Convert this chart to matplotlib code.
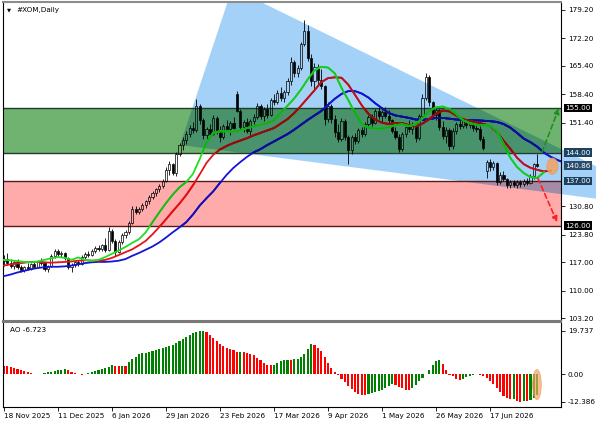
import numpy as np
import matplotlib
matplotlib.use("Agg")
import matplotlib.pyplot as plt
import matplotlib.colors as mcolors
from matplotlib.patches import Rectangle, PathPatch, Ellipse
from matplotlib.path import Path
from matplotlib.transforms import Bbox

# ---- daily candles, one row of ten bars per line ----
opens = [117.2, 117.8, 116.9, 116.2, 117.0, 115.8, 115.1, 115.9, 115.4, 116.5,
         115.9, 117.2, 116.8, 115.3, 116.0, 118.6, 119.8, 119.1, 119.4, 118.0,
         115.8, 116.4, 117.0, 116.6, 118.4, 119.1, 118.7, 119.8, 120.6, 120.2,
         121.3, 120.0, 124.8, 122.3, 119.6, 122.1, 123.7, 124.4, 126.8, 130.2,
         129.4, 130.2, 131.2, 132.0, 133.2, 134.0, 135.0, 135.8, 137.0, 139.8,
         141.2, 139.0, 143.8, 145.9, 147.2, 148.7, 150.2, 149.5, 155.6, 152.0,
         148.3, 149.8, 148.7, 152.6, 149.2, 147.9, 150.6, 149.9, 151.3, 158.4,
         154.4, 150.4, 151.5, 149.4, 151.8, 152.9, 155.5, 153.0, 154.9, 153.4,
         157.0, 156.4, 158.8, 157.6, 158.9, 161.8, 166.4, 163.6, 164.9, 170.8,
         174.0, 167.4, 161.6, 165.2, 162.0, 160.4, 152.3, 155.6, 152.4, 149.0,
         147.4, 151.8, 147.8, 144.6, 147.9, 146.8, 149.6, 148.6, 151.0, 152.8,
         151.4, 154.2, 153.0, 154.0, 153.1, 152.0, 149.4, 148.0, 145.0, 148.6,
         150.4, 149.8, 151.0, 147.6, 153.0, 157.6, 162.6, 156.4, 153.4, 154.6,
         150.4, 148.2, 149.6, 145.6, 149.4, 151.0, 150.6, 151.8, 150.8, 151.5,
         150.0, 149.8, 147.4, 139.4, 141.8, 140.4, 141.5, 136.8, 138.6, 137.6,
         136.0, 136.9, 136.1, 136.8, 136.2, 137.0, 136.6, 138.3, 141.2]
highs = [118.9, 119.3, 117.8, 117.5, 117.8, 116.4, 116.2, 116.9, 116.8, 117.3,
         117.6, 118.0, 117.1, 116.3, 119.0, 120.4, 120.2, 119.9, 119.6, 118.3,
         116.9, 117.4, 117.6, 118.8, 119.6, 119.8, 120.2, 121.0, 121.2, 121.6,
         123.0, 125.8, 125.3, 122.8, 122.6, 124.2, 125.0, 127.3, 131.0, 130.8,
         130.6, 131.6, 132.4, 133.6, 134.5, 135.4, 136.2, 137.6, 140.4, 141.9,
         141.6, 144.2, 146.4, 147.8, 149.3, 150.8, 151.6, 157.2, 156.0, 152.6,
         150.4, 151.2, 153.4, 153.0, 150.5, 151.2, 152.2, 151.8, 152.8, 159.2,
         154.8, 152.0, 152.6, 152.4, 153.6, 156.2, 156.0, 155.3, 156.0, 157.6,
         158.4, 159.4, 160.2, 159.4, 162.5, 167.6, 166.9, 165.6, 171.4, 176.8,
         175.4, 168.4, 166.2, 165.9, 164.6, 160.8, 156.6, 156.0, 153.2, 151.0,
         152.6, 152.4, 148.4, 148.4, 148.8, 150.2, 150.4, 151.6, 153.4, 153.6,
         154.8, 155.3, 154.6, 155.2, 154.6, 152.4, 150.4, 148.6, 149.0, 151.0,
         152.1, 151.6, 151.4, 153.6, 158.4, 163.6, 163.2, 156.8, 155.4, 154.9,
         151.8, 150.3, 150.0, 150.2, 151.6, 152.8, 152.2, 152.0, 152.2, 151.8,
         151.4, 150.6, 148.2, 142.2, 142.4, 142.0, 141.8, 139.2, 139.4, 137.9,
         137.4, 137.4, 137.2, 137.3, 137.5, 137.8, 138.8, 141.6, 143.6]
lows = [116.0, 116.4, 115.6, 115.4, 115.3, 114.6, 114.5, 115.0, 115.0, 115.6,
        115.7, 116.4, 114.9, 114.6, 115.8, 118.1, 118.6, 118.3, 117.6, 115.3,
        114.5, 115.8, 116.0, 116.4, 117.9, 118.2, 118.5, 119.3, 119.8, 119.7,
        119.5, 119.8, 121.8, 118.6, 119.2, 121.6, 122.9, 124.0, 126.4, 128.8,
        128.9, 129.6, 130.5, 131.4, 132.6, 133.3, 134.4, 135.2, 136.8, 138.6,
        138.4, 138.2, 143.1, 144.8, 146.2, 148.0, 148.9, 149.2, 151.2, 147.4,
        147.3, 148.2, 148.3, 148.6, 146.6, 147.5, 149.4, 148.4, 149.8, 154.0,
        149.6, 149.2, 148.8, 147.8, 151.0, 152.4, 152.3, 151.8, 152.6, 153.0,
        155.8, 156.0, 156.8, 156.6, 158.2, 160.8, 162.8, 162.6, 164.4, 170.2,
        166.6, 160.4, 159.6, 161.0, 159.8, 150.8, 151.6, 151.4, 148.0, 146.6,
        147.0, 147.2, 141.2, 143.8, 146.2, 146.4, 147.8, 148.2, 150.2, 150.6,
        151.0, 152.4, 151.6, 152.6, 151.3, 148.8, 147.4, 144.2, 144.4, 148.0,
        149.2, 148.6, 146.6, 147.2, 152.6, 157.0, 155.6, 152.6, 152.0, 149.6,
        147.4, 146.4, 144.6, 145.0, 148.6, 149.8, 150.2, 150.1, 150.2, 149.4,
        149.0, 146.8, 144.6, 137.8, 139.6, 139.8, 136.0, 136.2, 137.0, 135.4,
        135.2, 135.6, 135.4, 135.6, 135.8, 136.0, 136.4, 137.6, 140.4]
closes = [117.8, 116.9, 116.2, 117.0, 115.8, 115.1, 115.9, 115.4, 116.5, 115.9,
          117.2, 116.8, 115.3, 116.0, 118.6, 119.8, 119.1, 119.4, 118.0, 115.8,
          116.4, 117.0, 116.6, 118.4, 119.1, 118.7, 119.8, 120.6, 120.2, 121.3,
          120.0, 124.8, 122.3, 119.6, 122.1, 123.7, 124.4, 126.8, 130.2, 129.4,
          130.2, 131.2, 132.0, 133.2, 134.0, 135.0, 135.8, 137.0, 139.8, 141.2,
          139.0, 143.8, 145.9, 147.2, 148.7, 150.2, 149.5, 155.6, 152.0, 148.3,
          149.8, 148.7, 152.6, 149.2, 147.9, 150.6, 149.9, 151.3, 150.2, 154.4,
          150.4, 151.5, 149.4, 151.8, 152.9, 155.5, 153.0, 154.9, 153.4, 157.0,
          156.4, 158.8, 157.6, 158.9, 161.8, 166.4, 163.6, 164.9, 170.8, 174.0,
          167.4, 161.6, 165.2, 162.0, 160.4, 152.3, 155.6, 152.4, 149.0, 147.4,
          151.8, 147.8, 144.6, 147.9, 146.8, 149.6, 148.6, 151.0, 152.8, 151.4,
          154.2, 153.0, 154.0, 153.1, 152.0, 149.4, 148.0, 145.0, 148.6, 150.4,
          149.8, 151.0, 147.6, 153.0, 157.6, 162.6, 156.4, 153.4, 154.6, 150.4,
          148.2, 149.6, 145.6, 149.4, 151.0, 150.6, 151.8, 150.8, 151.5, 150.0,
          149.8, 147.4, 145.2, 141.8, 140.4, 141.5, 136.8, 138.6, 137.6, 136.0,
          136.9, 136.1, 136.8, 136.2, 137.0, 136.6, 138.3, 141.2, 140.86]

# Alligator-style lines, value every second bar as drawn on the chart (already shifted)
lips = [117.6, 117.5, 117.3, 117.1, 117.0, 117.2, 117.6, 118.0, 118.3, 118.1,
        117.6, 118.2, 117.6, 117.4, 117.6, 118.3, 119.1, 119.9, 120.8, 121.8,
        122.7, 124.4, 126.9, 129.3, 131.6, 133.7, 135.5, 136.8, 138.8, 142.5,
        146.6, 148.9, 149.3, 149.3, 149.2, 149.5, 150.1, 150.5, 150.9, 151.3,
        152.0, 153.9, 155.6, 157.4, 159.6, 162.1, 164.3, 165.2, 165.0, 163.6,
        160.0, 157.0, 153.8, 151.0, 150.2, 150.0, 150.0, 150.3, 150.8, 151.0,
        150.6, 151.0, 152.5, 154.3, 155.2, 155.4, 154.8, 153.6, 152.0, 151.3,
        150.9, 150.8, 150.7, 149.4, 146.2, 142.8, 140.5, 139.0, 138.0, 137.8,
        139.2]
teeth = [116.2, 116.5, 116.7, 116.9, 117.1, 117.1, 117.0, 116.9, 117.0, 117.1,
         117.2, 117.4, 117.5, 117.4, 117.4, 117.6, 118.1, 118.8, 119.5, 120.2,
         121.2, 122.3, 123.9, 125.7, 127.6, 129.6, 131.5, 133.6, 136.0, 138.7,
         141.5, 143.5, 144.8, 145.7, 146.4, 147.0, 147.6, 148.3, 148.9, 149.5,
         150.1, 151.2, 152.3, 153.8, 155.6, 157.5, 159.4, 161.4, 162.4, 162.6,
         162.5, 160.8, 158.3, 155.7, 153.6, 152.2, 151.4, 151.1, 151.3, 151.3,
         150.8, 150.5, 151.2, 152.3, 153.6, 154.4, 154.2, 153.2, 152.3, 151.8,
         151.5, 151.1, 150.6, 149.2, 147.0, 145.0, 142.8, 141.2, 140.3, 139.8,
         139.4, 139.6]
jaw = [113.6, 114.0, 114.5, 114.9, 115.3, 115.6, 115.8, 115.9, 115.9, 116.0,
       116.2, 116.5, 116.8, 117.0, 117.1, 117.1, 117.2, 117.4, 117.8, 118.6,
       119.3, 120.1, 120.9, 121.9, 123.1, 124.4, 125.6, 126.9, 128.8, 131.0,
       132.8, 134.5, 136.6, 138.6, 140.3, 141.7, 143.0, 144.1, 144.9, 145.9,
       146.8, 147.7, 148.6, 149.7, 150.9, 152.1, 153.2, 154.3, 155.8, 157.3,
       158.5, 159.2, 159.2, 158.6, 157.6, 156.2, 155.0, 153.8, 153.2, 152.9,
       152.6, 152.2, 152.1, 152.3, 152.6, 152.6, 152.4, 152.2, 152.1, 152.0,
       152.0, 151.9, 151.8, 151.6, 151.1, 150.2, 148.9, 147.5, 146.6, 145.5,
       144.0, 143.0, 142.2, 141.6]

ao = [3.7, 3.5, 3.3, 3.0, 2.5, 2.0, 1.4, 0.9, 0.4, 0.1, -0.1,
      0.3, 0.6, 0.9, 1.1, 1.4, 1.7, 2.0, 2.2,
      1.7, 1.1, 0.5, 0.0, -0.4,
      -0.1, 0.4, 0.9, 1.4, 2.0, 2.5, 2.8, 3.3, 4.2,
      3.9, 3.8, 3.9, 3.7,
      5.5, 6.9, 8.0, 9.0, 9.4, 9.8, 10.2, 10.6, 11.0, 11.4, 11.8, 12.3, 12.8,
      13.4, 14.0, 14.8, 15.8, 16.8, 17.9, 18.6, 19.2, 19.5, 19.737,
      19.0, 17.8, 16.4, 15.0, 13.7, 12.6, 12.0, 11.4, 10.8, 10.0,
      10.2,
      10.0, 9.7, 9.3, 8.6, 7.5, 6.3, 5.0, 4.2, 4.0,
      4.4, 5.3, 6.0, 6.4, 6.6,
      6.5,
      6.8, 7.1, 7.6, 9.0, 11.5, 13.6,
      13.3, 12.0, 10.5, 7.8, 5.2, 3.0, 1.2, -0.4, -2.0, -3.6, -5.2, -6.8,
      -8.2, -9.0, -9.3, -9.4,
      -9.0, -8.6, -8.1, -7.5, -6.9, -6.2, -5.5, -4.5,
      -4.8, -5.6, -6.4, -7.0, -7.2,
      -6.2, -4.8, -3.2, -1.6, 0.2, 2.0, 4.2, 6.0, 6.4,
      4.5, 2.0, -0.2, -1.0, -2.0, -2.6,
      -2.0, -1.2, -0.6, -0.2, -0.05,
      -0.4, -0.9, -1.6, -3.0, -4.5, -6.0, -8.0, -10.0,
      -10.8, -11.4, -11.2, -12.0, -12.386, -12.2, -12.3, -11.6, -10.8, -9.6]

date_labels = ['18 Nov 2025', '11 Dec 2025', '6 Jan 2026', '29 Jan 2026',
               '23 Feb 2026', '17 Mar 2026', '9 Apr 2026', '1 May 2026',
               '26 May 2026', '17 Jun 2026']
price_ticks = [179.20, 172.20, 165.40, 158.40, 151.40, 130.80, 123.80, 117.00,
               110.00, 103.20]
ao_ticks = [19.737, 0.0, -12.386]
buy_zone = (144.0, 155.0)
sell_zone = (126.0, 137.0)
last_price = 140.86

plt.rcParams['font.family'] = ['DejaVu Sans']
FS = 5.2

BLUE = '#a3d1f7'
GREEN = '#70b370'
PINK = '#ffabab'
LIPS_C = '#1ee01e'
TEETH_C = '#e3141a'
JAW_C = '#1414d6'


def mult(*cols):
    out = np.ones(3)
    for c in cols:
        out = out * np.array(mcolors.to_rgb(c))
    return tuple(out)


def tint(col, bg, k=0.55):
    # line colour seen through a background object, partly blended
    a = np.array(mcolors.to_rgb(col))
    return tuple((1 - k) * a + k * np.array(mult(col, bg)))


fig = plt.figure(figsize=(5.96, 4.25), dpi=100)
ax = fig.add_axes([3 / 596, 1 - 321 / 425, 558 / 596, 319 / 425])
ao_ax = fig.add_axes([3 / 596, 1 - 407 / 425, 558 / 596, 85 / 425])

XMIN, XMAX = -0.3, 165.04
YMIN, YMAX = 102.53, 181.17
ax.set_xlim(XMIN, XMAX)
ax.set_ylim(YMIN, YMAX)

# --- background objects: wedge, zones and their overlaps ---
wedge = np.array([[52.15, 145.92], [67.64, 184.62], [202.1, 129.83]])
wpath = Path(np.vstack([wedge, wedge[:1]]), closed=True)
w_vis = PathPatch(wpath.clip_to_bbox(Bbox([[XMIN, YMIN], [175.4, YMAX]])),
                  fc=BLUE, ec='none', zorder=0.1, clip_on=False)
g_rect = Rectangle((XMIN, buy_zone[0]), XMAX - XMIN, buy_zone[1] - buy_zone[0],
                   fc=GREEN, ec='none', zorder=0.2)
r_rect = Rectangle((XMIN, sell_zone[0]), XMAX - XMIN, sell_zone[1] - sell_zone[0],
                   fc=PINK, ec='none', zorder=0.2)
gw = PathPatch(wpath.clip_to_bbox(Bbox([[XMIN, buy_zone[0]], [XMAX, buy_zone[1]]])),
               fc=mult(GREEN, BLUE), ec='none', zorder=0.3)
rw = PathPatch(wpath.clip_to_bbox(Bbox([[XMIN, sell_zone[0]], [XMAX, sell_zone[1]]])),
               fc=mult(PINK, BLUE), ec='none', zorder=0.3)
regions = [(w_vis, BLUE), (g_rect, GREEN), (r_rect, PINK),
           (gw, mult(GREEN, BLUE)), (rw, mult(PINK, BLUE))]
for p, _ in regions:
    ax.add_patch(p)

for lvl in buy_zone:
    ax.axhline(lvl, color='#1f3d2a', lw=1.0, zorder=0.5)
for lvl in sell_zone:
    ax.axhline(lvl, color='#5a1a1a', lw=1.0, zorder=0.5)

# --- candles ---
o = np.array(opens); h = np.array(highs); l = np.array(lows); c = np.array(closes)
x = np.arange(len(c))
top = np.maximum(o, c)
bot = np.minimum(o, c)
ax.vlines(x, top, h, color='black', lw=0.6, zorder=2)
ax.vlines(x, l, bot, color='black', lw=0.6, zorder=2)
bh = np.maximum(top - bot, 0.15)
up = c >= o
ax.bar(x[up], bh[up], bottom=bot[up], width=0.62, facecolor='none',
       edgecolor='black', lw=0.5, zorder=2.1)
ax.bar(x[~up], bh[~up], bottom=bot[~up], width=0.62, facecolor='black',
       edgecolor='black', lw=0.5, zorder=2.1)

# --- lines, tinted where they cross the objects ---
for vals, col in [(jaw, JAW_C), (teeth, TEETH_C), (lips, LIPS_C)]:
    xs = np.arange(0, 2 * len(vals), 2)
    ax.plot(xs, vals, color=col, lw=1.3, zorder=3)
    for patch, bg in regions:
        ln, = ax.plot(xs, vals, color=tint(col, bg), lw=1.3, zorder=3)
        ln.set_clip_path(patch)

# --- scenario arrows and marker ---
ax.annotate('', xy=(164.4, 155.0), xytext=(159.4, 144.1),
            arrowprops=dict(arrowstyle='-|>', color='#1f8f1f', lw=1.2,
                            linestyle=(0, (3, 2)), mutation_scale=8,
                            shrinkA=0, shrinkB=0), zorder=4)
ax.annotate('', xy=(163.9, 126.9), xytext=(158.2, 137.7),
            arrowprops=dict(arrowstyle='-|>', color='#ff2020', lw=1.2,
                            linestyle=(0, (3, 2)), mutation_scale=8,
                            shrinkA=0, shrinkB=0), zorder=4)
ax.add_patch(Ellipse((162.5, 140.7), 3.3, 4.0, fc='#f3a462', ec='#e89a58',
                     alpha=0.85, lw=0.6, zorder=4))

# --- axes styling ---
ax.set_xticks([])
ax.yaxis.tick_right()
ax.set_yticks(price_ticks)
ax.set_yticklabels(['%.2f' % v for v in price_ticks])
ax.tick_params(axis='y', labelsize=FS, length=3, width=0.6, pad=2, colors='black')
for s in ['left', 'right']:
    ax.spines[s].set_color('black')
    ax.spines[s].set_linewidth(0.8)
ax.spines['top'].set_color('#8c8c8c')
ax.spines['top'].set_linewidth(1.5)
ax.spines['bottom'].set_color('#7a7a7a')
ax.spines['bottom'].set_linewidth(1.5)

ytr = ax.get_yaxis_transform()
boxes = [(155.0, 'black'), (144.0, '#1c4262'), (last_price, '#2a4b6b'),
         (137.0, '#1c4262'), (126.0, 'black')]
for val, bc in boxes:
    ax.text(1.008, val, '%.2f' % val, transform=ytr, fontsize=FS, color='white',
            ha='left', va='center', clip_on=False, zorder=6,
            bbox=dict(boxstyle='square,pad=0.18', fc=bc, ec='none'))

ax.text(0.008, 0.975, '\u25bc', transform=ax.transAxes, fontsize=3.8,
        ha='left', va='center')
ax.text(0.024, 0.975, '#XOM,Daily', transform=ax.transAxes, fontsize=FS,
        ha='left', va='center')

# --- Awesome Oscillator ---
ao_v = np.array(ao)
ao_cols = ['#ff0000'] + ['#008000' if ao_v[i] > ao_v[i - 1] else '#ff0000'
                         for i in range(1, len(ao_v))]
ao_ax.bar(np.arange(len(ao_v)), ao_v, width=0.62, color=ao_cols, lw=0, zorder=2)
ao_ax.add_patch(Ellipse((157.9, -4.7), 2.6, 13.6, fc='#f3a462', ec='#e89a58',
                        alpha=0.7, lw=0.6, zorder=3))
ao_ax.set_xlim(XMIN, XMAX)
ao_ax.set_ylim(-14.8, 23.6)
ao_ax.yaxis.tick_right()
ao_ax.set_yticks(ao_ticks)
ao_ax.set_yticklabels(['19.737', '0.00', '-12.386'])
ao_ax.tick_params(axis='y', labelsize=FS, length=3, width=0.6, pad=2)
ao_ax.set_xticks(np.arange(0, 16 * len(date_labels), 16))
ao_ax.set_xticklabels(date_labels, ha='left')
ao_ax.tick_params(axis='x', labelsize=FS, length=3, width=0.6, pad=1.5)
for s in ['left', 'right', 'bottom']:
    ao_ax.spines[s].set_color('black')
    ao_ax.spines[s].set_linewidth(0.8)
ao_ax.spines['top'].set_color('#7a7a7a')
ao_ax.spines['top'].set_linewidth(1.5)
ao_ax.text(0.012, 0.9, 'AO -6.723', transform=ao_ax.transAxes, fontsize=FS,
           ha='left', va='center')

fig.savefig('out.png', dpi=100, facecolor='white')
